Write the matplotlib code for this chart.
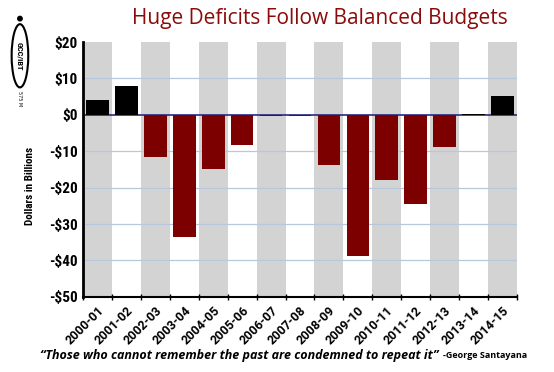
import matplotlib
matplotlib.use("Agg")
import matplotlib.pyplot as plt
import numpy as np
from matplotlib.patches import Ellipse
from matplotlib import font_manager

years = ["2000-01", "2001-02", "2002-03", "2003-04", "2004-05", "2005-06", "2006-07",
         "2007-08", "2008-09", "2009-10", "2010-11", "2011-12", "2012-13", "2013-14", "2014-15"]
values = [4.2, 8.0, -11.7, -33.5, -15.0, -8.2, -0.2, -0.2, -13.7, -38.7, -18.0, -24.5, -8.7, 0.2, 5.2]
yticks = [20, 10, 0, -10, -20, -30, -40, -50]
ytick_labels = ["$20", "$10", "$0", "-$10", "-$20", "-$30", "-$40", "-$50"]

names = {f.name for f in font_manager.fontManager.ttflist}
cond = [n for n in ["Liberation Sans Narrow", "DejaVu Sans Condensed", "Roboto Condensed",
                    "Open Sans Condensed"] if n in names]
narrow = cond[:1] + ["DejaVu Sans"]

fig = plt.figure(figsize=(5.54, 3.72), dpi=100)
ax = fig.add_axes([0.150, 0.202, 0.783, 0.685])

x = np.arange(len(years))
for i in x:
    if i % 2 == 0:
        ax.axvspan(i - 0.5, i + 0.5, color="#d3d3d3", lw=0, zorder=0)

for t in yticks:
    if t not in (0, -50, 20):
        ax.axhline(t, color="#b8c8dc", lw=0.9, zorder=1)

colors = ["#000000" if v > 0 else "#7d0000" for v in values]
ax.bar(x, values, width=0.78, color=colors, zorder=3, edgecolor="none")
ax.axhline(0, color="#2a2a80", lw=1.2, zorder=2)

ax.set_xlim(-0.5, len(years) - 0.5)
ax.set_ylim(-50, 20)
ax.set_yticks(yticks)
ax.set_yticklabels(ytick_labels, fontfamily=narrow, fontweight="bold", fontsize=11,
                   fontstretch="condensed")
ax.tick_params(axis="y", length=0, pad=4)
ax.set_xticks(x)
ax.set_xticklabels(years, rotation=45, ha="right", va="top", rotation_mode="anchor",
                   fontfamily=["Roboto", "DejaVu Sans"], fontweight="bold", fontsize=9)
ax.tick_params(axis="x", length=0, pad=5)
ax.set_xticks(np.arange(len(years) + 1) - 0.5, minor=True)
ax.tick_params(axis="x", which="minor", length=5, direction="inout", width=1, color="black")

for s in ["top", "right"]:
    ax.spines[s].set_visible(False)
ax.spines["left"].set_linewidth(2)
ax.spines["bottom"].set_linewidth(1.5)

fig.text(0.055, 0.50, "Dollars in Billions", rotation=90, ha="center", va="center",
         fontfamily=narrow, fontweight="bold", fontsize=8, fontstretch="condensed")

fig.text(0.578, 0.95, "Huge Deficits Follow Balanced Budgets", ha="center", va="center",
         color="#8b0a0a", fontsize=15, fontfamily=["Open Sans", "DejaVu Sans"])

fig.text(0.072, 0.045, "\u201cThose who cannot remember the past are condemned to repeat it\u201d",
         ha="left", va="center", fontsize=9.0, fontweight="bold", fontstyle="italic",
         fontfamily=["Open Sans", "DejaVu Sans"])
fig.text(0.800, 0.045, "-George Santayana", ha="left", va="center", fontsize=6.5,
         fontweight="bold", fontfamily=["Open Sans", "DejaVu Sans"])

# logo
fig.patches.append(Ellipse((0.036, 0.85), 0.030, 0.17, transform=fig.transFigure,
                           fill=False, ec="black", lw=1.5))
fig.patches.append(Ellipse((0.036, 0.95), 0.008, 0.012, transform=fig.transFigure,
                           fc="black", ec="black"))
fig.text(0.036, 0.85, "GCC/IBT", rotation=-90, ha="center", va="center",
         fontsize=6, fontweight="bold", fontfamily=narrow)
fig.text(0.036, 0.735, "575 M", rotation=-90, ha="center", va="center", fontsize=3.5)

fig.savefig("out.png", dpi=100)
